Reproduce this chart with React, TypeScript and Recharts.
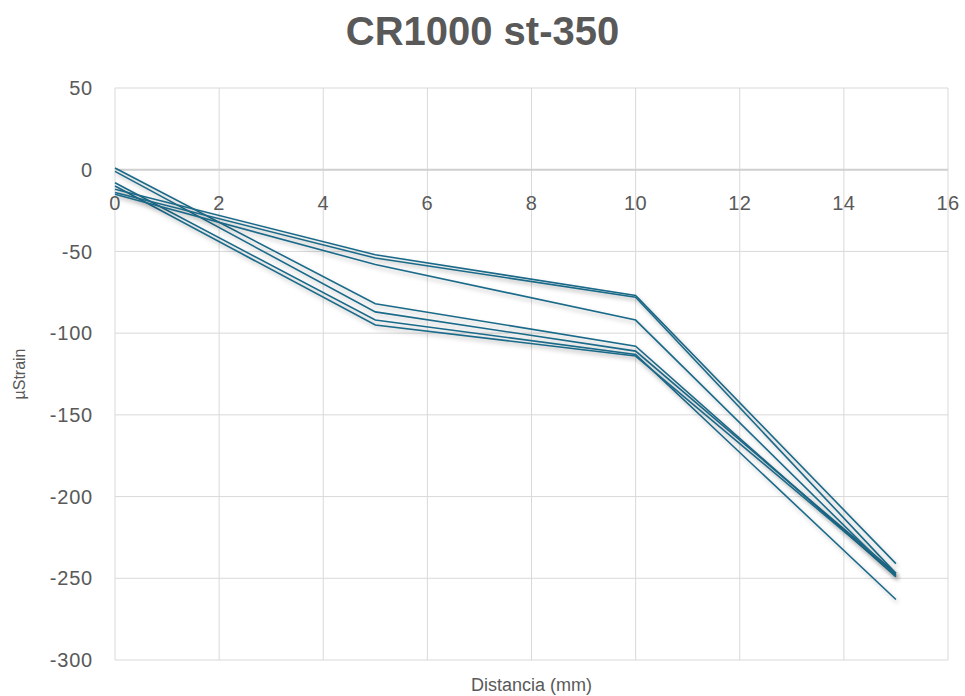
import React from "react";
import {
  CartesianGrid,
  Line,
  LineChart,
  ReferenceLine,
  XAxis,
  YAxis,
} from "recharts";

const distancia = [0, 5, 10, 15];

// seven gauges, microstrain at each distance
const gauge1 = [1, -82, -108, -249];
const gauge2 = [-1, -87, -111, -247];
const gauge3 = [-8, -92, -113, -263];
const gauge4 = [-10, -95, -114, -248];
const gauge5 = [-12, -52, -77, -241];
const gauge6 = [-14, -54, -78, -247];
const gauge7 = [-15, -58, -92, -249];

const gauges = [gauge1, gauge2, gauge3, gauge4, gauge5, gauge6, gauge7];

const xTicks = [0, 2, 4, 6, 8, 10, 12, 14, 16];
const yTicks = [50, 0, -50, -100, -150, -200, -250, -300];

const rows = distancia.map((d, i) => {
  const row: Record<string, number> = { d };
  gauges.forEach((g, k) => {
    row[`g${k + 1}`] = g[i];
  });
  return row;
});

const W = 965;
const H = 696;
const margin = { top: 88, right: 17, bottom: 0, left: 0 };
const yAxisWidth = 115;
const xAxisHeight = 36;
const plotHeight = H - margin.top - margin.bottom - xAxisHeight;
const yMin = -300;
const yMax = 50;

const textColor = "#595959";
const font = "'Liberation Sans', Arial, sans-serif";

// x labels sit just under the zero line rather than at the bottom
const XTick = (props: any) => {
  const { x, y, payload } = props;
  const zeroOffset = (plotHeight * (0 - yMin)) / (yMax - yMin);
  return (
    <text
      x={x}
      y={y - zeroOffset + 33}
      textAnchor="middle"
      dominantBaseline="central"
      fill={textColor}
      fontSize={20}
      fontFamily={font}
      letterSpacing={0.5}
    >
      {payload.value}
    </text>
  );
};

export default function App() {
  return (
    <div
      style={{
        position: "absolute",
        top: 0,
        left: 0,
        width: W,
        height: H,
        overflow: "hidden",
        background: "#fff",
      }}
    >
      <style>{`.recharts-line-curve { filter: drop-shadow(2px 3px 2px rgba(0,0,0,0.25)); }`}</style>
      <div
        style={{
          position: "absolute",
          top: 9,
          left: 0,
          width: W,
          textAlign: "center",
          fontFamily: font,
          fontWeight: 700,
          fontSize: 40,
          color: textColor,
        }}
      >
        CR1000 st-350
      </div>
      <LineChart width={W} height={H} data={rows} margin={margin}>
        <CartesianGrid stroke="#d9d9d9" strokeWidth={1} />
        <XAxis
          dataKey="d"
          type="number"
          domain={[0, 16]}
          ticks={xTicks}
          axisLine={false}
          tickLine={false}
          tickSize={0}
          tickMargin={0}
          height={xAxisHeight}
          tick={<XTick />}
          label={{
            value: "Distancia (mm)",
            position: "insideBottom",
            offset: 5,
            fill: textColor,
            fontSize: 18,
            fontFamily: font,
          }}
        />
        <YAxis
          type="number"
          domain={[yMin, yMax]}
          ticks={yTicks}
          axisLine={false}
          tickLine={false}
          tickSize={0}
          tickMargin={22}
          width={yAxisWidth}
          tick={{ fill: textColor, fontSize: 20, fontFamily: font, letterSpacing: 0.8 }}
          label={{
            value: "µStrain",
            angle: -90,
            position: "insideLeft",
            offset: 19,
            fill: textColor,
            fontSize: 16,
            fontFamily: font,
            style: { textAnchor: "middle" },
          }}
        />
        <ReferenceLine y={0} stroke="#d0d0d0" strokeWidth={2} />
        {gauges.map((_, k) => (
          <Line
            key={k}
            dataKey={`g${k + 1}`}
            stroke="#1a6a8a"
            strokeWidth={1.6}
            dot={false}
            isAnimationActive={false}
          />
        ))}
      </LineChart>
    </div>
  );
}
